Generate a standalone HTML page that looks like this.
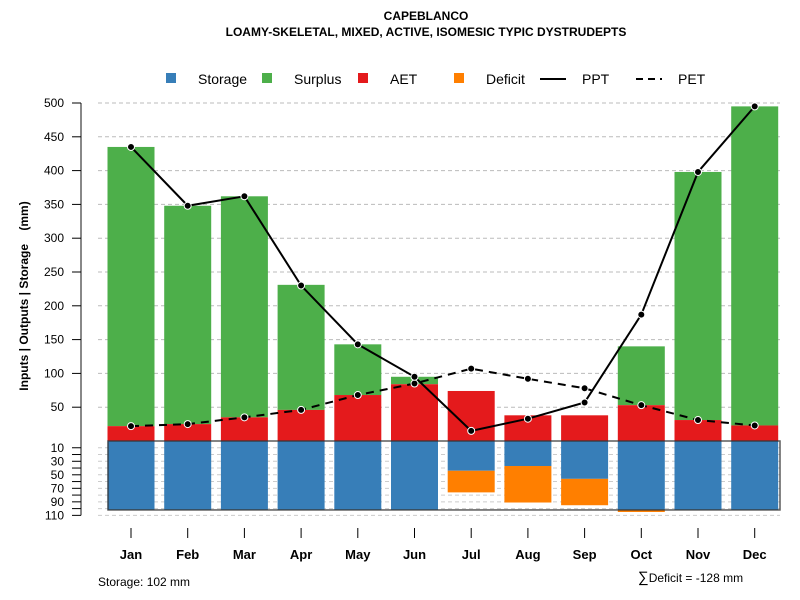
<!DOCTYPE html>
<html><head><meta charset="utf-8"><style>
body{margin:0;background:#fff;}
svg{display:block;font-family:"Liberation Sans",sans-serif;}
</style></head><body>
<svg id="chart" width="800" height="600">
<text x="426" y="20" text-anchor="middle" font-size="12" font-weight="bold">CAPEBLANCO</text>
<text x="426" y="36" text-anchor="middle" font-size="12" font-weight="bold">LOAMY-SKELETAL, MIXED, ACTIVE, ISOMESIC TYPIC DYSTRUDEPTS</text>
<g font-size="14">
 <rect x="166" y="73" width="10" height="10" fill="#377eb8"/>
 <text x="198" y="84">Storage</text>
 <rect x="262" y="73" width="10" height="10" fill="#4daf4a"/>
 <text x="294" y="84">Surplus</text>
 <rect x="358" y="73" width="10" height="10" fill="#e41a1c"/>
 <text x="390" y="84">AET</text>
 <rect x="454" y="73" width="10" height="10" fill="#ff7f00"/>
 <text x="486" y="84">Deficit</text>
 <line x1="540" y1="79" x2="566" y2="79" stroke="#000" stroke-width="2"/>
 <text x="582" y="84">PPT</text>
 <line x1="636" y1="79" x2="662" y2="79" stroke="#000" stroke-width="2" stroke-dasharray="7,5"/>
 <text x="678" y="84">PET</text>
</g>
<text transform="translate(28,296) rotate(-90)" text-anchor="middle" font-size="12" font-weight="bold">Inputs | Outputs | Storage&#160;&#160;&#160;&#160;(mm)</text>
<text x="98" y="586" font-size="12">Storage: 102 mm</text>
<text x="638" y="582" font-size="12"><tspan font-size="15">∑</tspan>Deficit = -128 mm</text>
<g id="g"></g>
</svg>
<script>
const months=["Jan","Feb","Mar","Apr","May","Jun","Jul","Aug","Sep","Oct","Nov","Dec"];
const ppt=[435,348,362,230,143,95,15,33,57,187,398,495];
const pet=[22,25,35,46,68,85,107,92,78,53,31,23];
const aet=[22,25,35,46,68,84,74,38,38,53,31,23];
const total=[435,348,362,231,143,95,74,38,38,140,398,495];
const storage=[102,102,102,102,102,102,44,37,56,102,102,102];
const deficit=[0,0,0,0,0,0,32,54,39,3,0,0];
const upperTicks=[50,100,150,200,250,300,350,400,450,500];
const lowerTicks=[10,30,50,70,90,110];
const maxStorage=102;

const NS="http://www.w3.org/2000/svg";
const g=document.getElementById("g");
const y0=441,k=0.676;
const yU=v=>y0-v*k, yL=v=>y0+v*k;
const xC=i=>131+i*56.7, bw=47;
function el(t,a,p){const e=document.createElementNS(NS,t);for(const n in a)e.setAttribute(n,a[n]);(p||g).appendChild(e);return e;}

upperTicks.forEach(v=>{
 const l=el("line",{x1:98,x2:780,y1:yU(v),y2:yU(v),stroke:"#bbb","stroke-dasharray":"4,3"});
 
 
});
for(let v=10;v<=110;v+=10){
 const l=el("line",{x1:98,x2:780,y1:yL(v),y2:yL(v),stroke:"#ccc","stroke-dasharray":"4,3"});
 
 
}
const ax=el("line",{x1:81,x2:81,y1:yU(500),y2:yL(110),stroke:"#888","stroke-width":2});


upperTicks.forEach(v=>{
 el("line",{x1:72,x2:81,y1:yU(v),y2:yU(v),stroke:"#000"});
 const t=el("text",{x:64,y:yU(v)+4,"text-anchor":"end","font-size":12});
 t.textContent=v;
 
 
});
for(let v=10;v<=110;v+=10) el("line",{x1:72,x2:81,y1:yL(v),y2:yL(v),stroke:"#000"});
lowerTicks.forEach(v=>{
 const t=el("text",{x:64,y:yL(v)+4,"text-anchor":"end","font-size":12});
 t.textContent=v;
 
 
});
months.forEach((m,i)=>{
 const x=xC(i)-bw/2;
 const s=el("rect",{x:x,y:yU(total[i]),width:bw,height:(total[i]-aet[i])*k,fill:"#4daf4a"});
 
 
 const a=el("rect",{x:x,y:yU(aet[i]),width:bw,height:aet[i]*k,fill:"#e41a1c"});
 
 
 const st=el("rect",{x:x,y:y0,width:bw,height:storage[i]*k,fill:"#377eb8"});
 
 
 if(deficit[i]>0){
  const d=el("rect",{x:x,y:yL(storage[i]),width:bw,height:deficit[i]*k,fill:"#ff7f00"});
  
  
 }
 el("line",{x1:xC(i),x2:xC(i),y1:528,y2:538,stroke:"#000"});
 const t=el("text",{x:xC(i),y:559,"text-anchor":"middle","font-size":13,"font-weight":"bold"});
 t.textContent=m;
 
 
});
const box=el("rect",{x:108,y:y0,width:672,height:maxStorage*k,fill:"none",stroke:"#333","stroke-width":1.5,"stroke-opacity":0.8});


function line(vals,dash,name){
 const p=el("polyline",{points:vals.map((v,i)=>xC(i)+","+yU(v)).join(" "),fill:"none",stroke:"#000","stroke-width":2,"stroke-dasharray":dash});
 
 
 vals.forEach((v,i)=>{
  const c=el("circle",{cx:xC(i),cy:yU(v),r:3.5,fill:"#000",stroke:"#fff","stroke-width":1});
  
  
 });
}
line(pet,"8,6","pet");
line(ppt,"none","ppt");
</script>
</body></html>
